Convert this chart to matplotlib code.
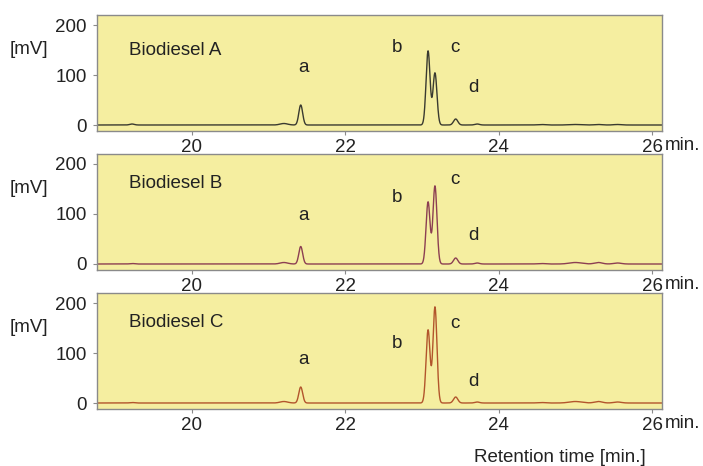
import numpy as np
import matplotlib
matplotlib.use("Agg")
import matplotlib.pyplot as plt

plt.rcParams['font.family'] = ['Liberation Sans', 'DejaVu Sans']

samples = ["Biodiesel A", "Biodiesel B", "Biodiesel C"]
line_colors = ["#3a3a30", "#8c3f52", "#b2552c"]

# peak retention times (min) and widths (sigma, min)
peak_times = [19.22, 21.20, 21.42, 23.08, 23.17, 23.44, 23.72, 24.55, 25.0, 25.3, 25.55]
peak_sigma = [0.03, 0.05, 0.025, 0.026, 0.026, 0.028, 0.03, 0.05, 0.08, 0.05, 0.05]
# peak heights (mV) per sample
heights_A = [2, 3, 40, 148, 104, 12, 2, 1, 1, 1, 1]
heights_B = [1, 3, 35, 124, 156, 12, 2, 1, 3, 3, 2]
heights_C = [1, 3, 32, 146, 192, 12, 2, 1, 3, 3, 2]
heights = [heights_A, heights_B, heights_C]

# label positions (time, mV) per sample
label_names = ["a", "b", "c", "d"]
label_x = [21.45, 22.67, 23.43, 23.67]
label_y_A = [114, 154, 154, 76]
label_y_B = [98, 134, 170, 58]
label_y_C = [86, 120, 160, 44]
label_ys = [label_y_A, label_y_B, label_y_C]

x_ticks = [20, 22, 24, 26]
y_ticks = [0, 100, 200]

W, H = 703, 466
fig = plt.figure(figsize=(W / 100, H / 100), dpi=100)

tops = [15, 154, 293]
ax_h = 116
left, right = 96.7, 662
bg = "#f5ee a0".replace(" ", "")
spine_c = "#8a8a8a"
txt_c = "#222222"
fs = 13.5
title_y = [0.651, 0.703, 0.705]

t = np.linspace(18.7, 26.2, 4000)
for i in range(3):
    ax = fig.add_axes([left / W, 1 - (tops[i] + ax_h) / H, (right - left) / W, ax_h / H])
    ax.set_facecolor(bg)
    y = np.zeros_like(t)
    for tc, s, h in zip(peak_times, peak_sigma, heights[i]):
        y += h * np.exp(-0.5 * ((t - tc) / s) ** 2)
    ax.plot(t, y, color=line_colors[i], lw=1.0)
    ax.set_xlim(18.76, 26.13)
    ax.set_ylim(-12, 220)
    ax.set_xticks(x_ticks)
    ax.set_yticks(y_ticks)
    ax.tick_params(axis='both', labelsize=fs, color=spine_c, length=3, width=0.8,
                   labelcolor=txt_c)
    ax.tick_params(axis='x', pad=2.5)
    ax.tick_params(axis='y', pad=4)
    for sp in ax.spines.values():
        sp.set_color(spine_c)
        sp.set_linewidth(1.0)
    ax.text(0.057, title_y[i], samples[i], transform=ax.transAxes, fontsize=fs,
            color=txt_c, va='baseline')
    for nm, lx, ly in zip(label_names, label_x, label_ys[i]):
        ax.text(lx, ly, nm, fontsize=fs, color=txt_c, ha='center', va='center')
    ax.text(-0.12, 0.70, "[mV]", transform=ax.transAxes, fontsize=fs, color=txt_c,
            ha='center', va='center')
    ax.text(1.005, -0.125, "min.", transform=ax.transAxes, fontsize=fs, color=txt_c,
            ha='left', va='center')

fig.text(560 / W, 1 - 457 / H, "Retention time [min.]", fontsize=fs, color=txt_c,
         ha='center', va='center')

fig.savefig("out.png", dpi=100, facecolor="white")
